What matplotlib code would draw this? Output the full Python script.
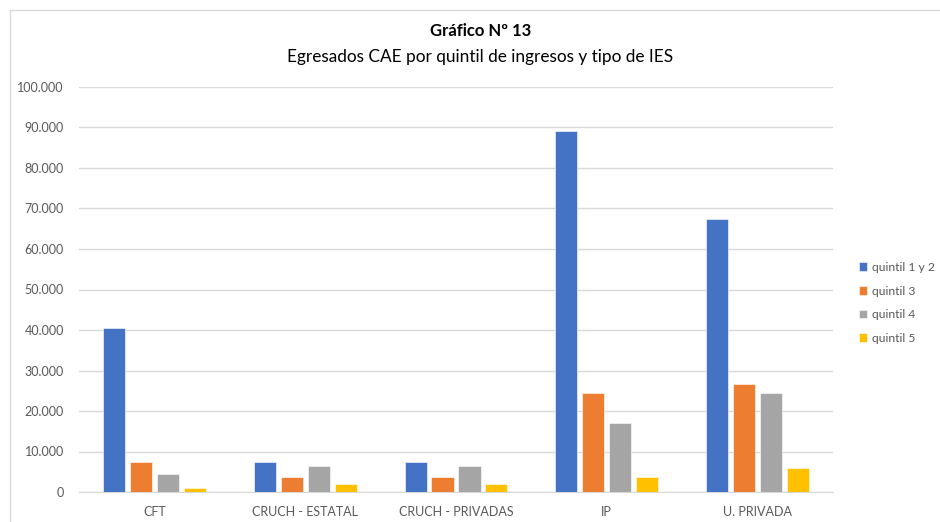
import matplotlib
matplotlib.use('Agg')
import matplotlib.pyplot as plt
from matplotlib.patches import Rectangle
import numpy as np

plt.rcParams['font.family'] = ['Lato', 'DejaVu Sans']

tipos_ies = ['CFT', 'CRUCH - ESTATAL', 'CRUCH - PRIVADAS', 'IP', 'U. PRIVADA']
quintiles = ['quintil 1 y 2', 'quintil 3', 'quintil 4', 'quintil 5']
q12 = [40500, 7500, 7500, 89100, 67300]
q3 = [7500, 3600, 3600, 24400, 26700]
q4 = [4400, 6400, 6400, 17000, 24400]
q5 = [900, 2000, 2000, 3600, 5900]
colores = ['#4472C4', '#ED7D31', '#A5A5A5', '#FFC000']

fig = plt.figure(figsize=(9.4, 5.22), dpi=100)
ax = fig.add_axes([79/940, 1 - 492/522, (833 - 79)/940, (492 - 87)/522])

x = np.arange(len(tipos_ies))
ancho = 0.146
paso = 0.179
for i, (serie, nombre, col) in enumerate(zip([q12, q3, q4, q5], quintiles, colores)):
    ax.bar(x + (i - 1.5) * paso, serie, ancho, color=col, label=nombre,
           edgecolor='white', linewidth=0.4, zorder=3)

ax.set_xlim(-0.5, 4.5)
ax.set_ylim(0, 100000)
ax.set_yticks(np.arange(0, 100001, 10000))
ax.set_yticklabels(['0'] + [f'{v:,}'.replace(',', '.') for v in range(10000, 100001, 10000)])
ax.set_xticks(x)
ax.set_xticklabels(tipos_ies)
ax.grid(axis='y', color='#d9d9d9', linewidth=1, zorder=0)
for s in ['top', 'right', 'left']:
    ax.spines[s].set_visible(False)
ax.spines['bottom'].set_color('#d9d9d9')
ax.tick_params(axis='both', length=0, labelsize=9, colors='#595959')
ax.tick_params(axis='y', pad=11)
ax.tick_params(axis='x', pad=10)

leg = fig.legend(loc='upper left', bbox_to_anchor=(848/940, 1 - 251/522), frameon=False,
                 fontsize=8.7, handlelength=0.7, handleheight=0.7, handletextpad=0.35,
                 labelspacing=1.05, labelcolor='#595959')

fig.text(481/940, 1 - 31/522, 'Gráfico Nº 13', ha='center', va='center',
         fontsize=12, fontweight='bold', color='#000000')
fig.text(480/940, 1 - 57/522, 'Egresados CAE por quintil de ingresos y tipo de IES',
         ha='center', va='center', fontsize=12.4, color='#000000')

# marco del gráfico
fig.patches.append(Rectangle((10/940, -0.1), 1.1, 1 - 10/522 + 0.1, transform=fig.transFigure,
                             fill=False, edgecolor='#d9d9d9', linewidth=1))

fig.savefig('out.png', dpi=100)
